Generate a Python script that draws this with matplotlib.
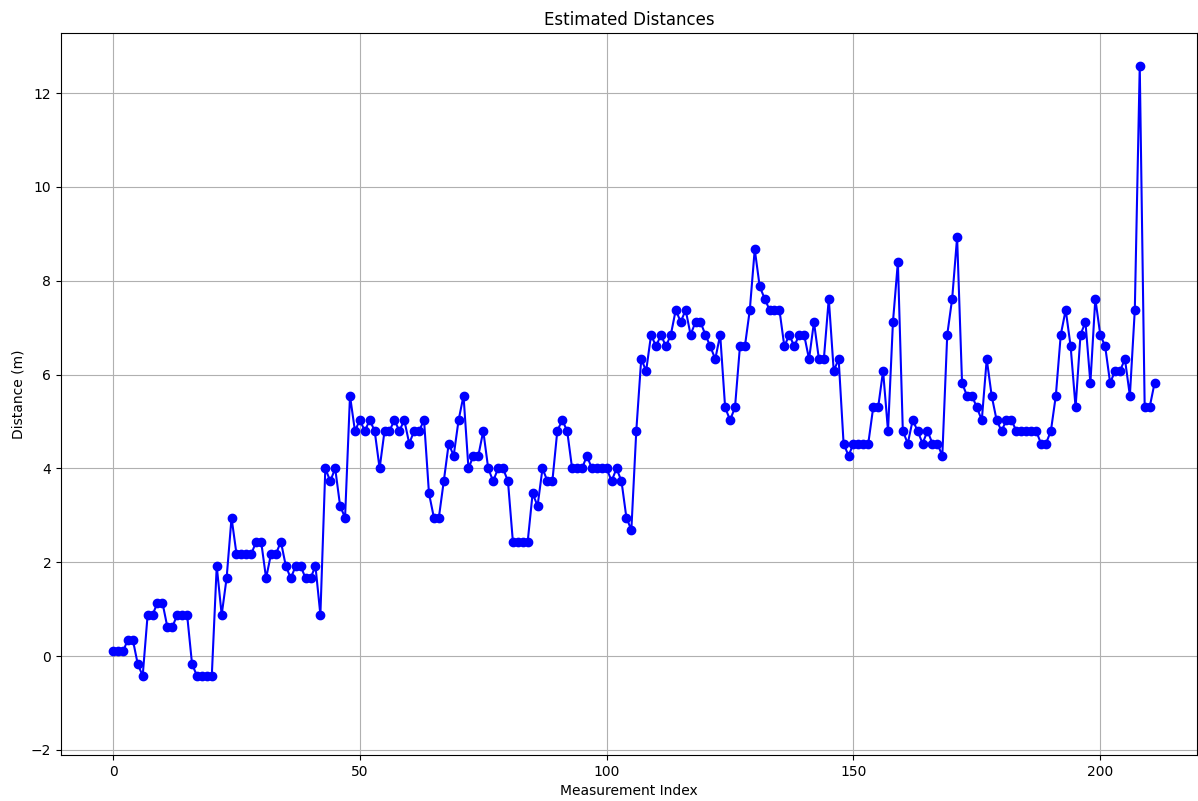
import matplotlib
matplotlib.use("Agg")
import matplotlib.pyplot as plt
import numpy as np

# Estimated distance for each measurement (m)
distances = [
    0.10, 0.10, 0.10, 0.35, 0.35, -0.17, -0.42, 0.88, 0.88, 1.14,
    1.14, 0.62, 0.62, 0.88, 0.88, 0.88, -0.17, -0.42, -0.42, -0.42,
    -0.42, 1.92, 0.88, 1.66, 2.95, 2.18, 2.18, 2.18, 2.18, 2.44,
    2.44, 1.66, 2.18, 2.18, 2.44, 1.92, 1.66, 1.92, 1.92, 1.66,
    1.66, 1.92, 0.88, 4.00, 3.73, 4.00, 3.20, 2.95, 5.55, 4.80,
    5.03, 4.80, 5.03, 4.80, 4.00, 4.80, 4.80, 5.03, 4.80, 5.03,
    4.53, 4.80, 4.80, 5.03, 3.47, 2.95, 2.95, 3.73, 4.53, 4.27,
    5.03, 5.55, 4.00, 4.27, 4.27, 4.80, 4.00, 3.73, 4.00, 4.00,
    3.73, 2.44, 2.44, 2.44, 2.44, 3.47, 3.20, 4.00, 3.73, 3.73,
    4.80, 5.03, 4.80, 4.00, 4.00, 4.00, 4.27, 4.00, 4.00, 4.00,
    4.00, 3.73, 4.00, 3.73, 2.95, 2.69, 4.80, 6.33, 6.08, 6.85,
    6.60, 6.85, 6.60, 6.85, 7.38, 7.12, 7.38, 6.85, 7.12, 7.12,
    6.85, 6.60, 6.33, 6.85, 5.30, 5.03, 5.30, 6.60, 6.60, 7.38,
    8.67, 7.88, 7.62, 7.38, 7.38, 7.38, 6.60, 6.85, 6.60, 6.85,
    6.85, 6.33, 7.12, 6.33, 6.33, 7.62, 6.08, 6.33, 4.53, 4.27,
    4.53, 4.53, 4.53, 4.53, 5.30, 5.30, 6.08, 4.80, 7.12, 8.40,
    4.80, 4.53, 5.03, 4.80, 4.53, 4.80, 4.53, 4.53, 4.27, 6.85,
    7.62, 8.93, 5.82, 5.55, 5.55, 5.30, 5.03, 6.33, 5.55, 5.03,
    4.80, 5.03, 5.03, 4.80, 4.80, 4.80, 4.80, 4.80, 4.53, 4.53,
    4.80, 5.55, 6.85, 7.38, 6.60, 5.30, 6.85, 7.12, 5.82, 7.62,
    6.85, 6.60, 5.82, 6.08, 6.08, 6.33, 5.55, 7.38, 12.58, 5.30,
    5.30, 5.82,
]
indices = np.arange(len(distances))

W, H = 1198, 801
fig = plt.figure(figsize=(W / 100, H / 100), dpi=100)
ax = fig.add_axes([61 / W, (H - 755) / H, (1197 - 61) / W, (755 - 33) / H])

ax.plot(indices, distances, marker="o", color="blue", linestyle="-")

ax.set_xlim(-10.55, 219.6)
ax.set_ylim(-2.107, 13.28)
ax.set_title("Estimated Distances")
ax.set_xlabel("Measurement Index")
ax.set_ylabel("Distance (m)")
ax.grid(True)

fig.savefig("out.png", dpi=100)
